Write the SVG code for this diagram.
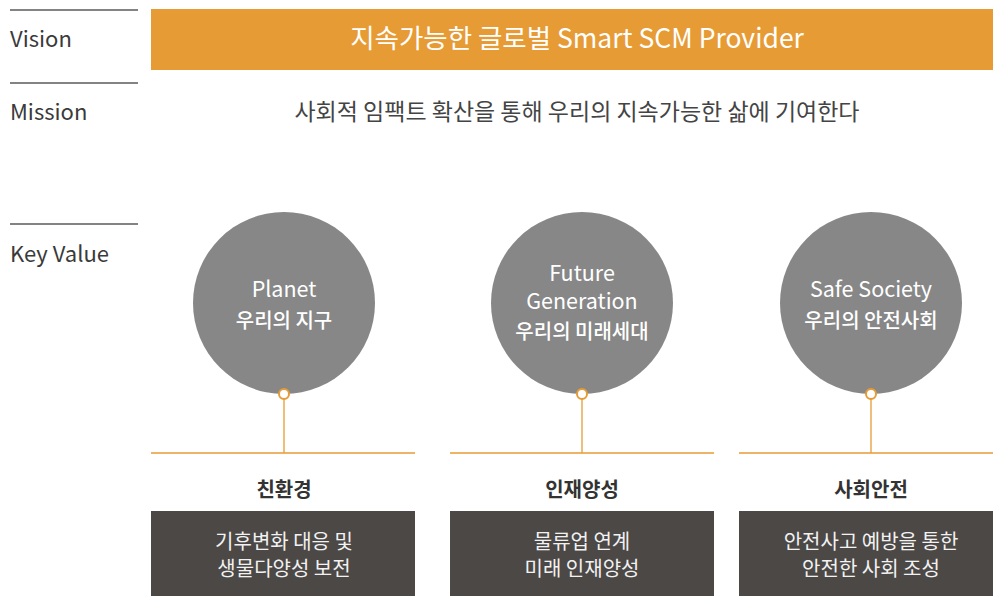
<svg xmlns="http://www.w3.org/2000/svg" width="993" height="596" viewBox="0 0 993 596">
<style>
text{font-family:"Noto Sans CJK KR","Noto Sans",sans-serif}
.lbl{font-size:22px;fill:#3a3a3a}
.rule{stroke:#5a5a5a;stroke-width:1.5}
.circ{fill:#878787}
.ct{font-size:21.5px;fill:#fff;text-anchor:middle}
.ck{font-size:20px;fill:#fff;text-anchor:middle;font-weight:500}
.conn{stroke:#E79B35;stroke-width:1.3;fill:none}
.dot{fill:#fff;stroke:#E79B35;stroke-width:2}
.head{font-size:20px;fill:#333;text-anchor:middle;font-weight:bold}
.box{fill:#4B4846}
.bt{font-size:20px;fill:#f2f2f2;text-anchor:middle}
</style>
<rect width="993" height="596" fill="#fff"/>
<g id="labels">
<line class="rule" x1="10" y1="10" x2="138" y2="10"/>
<line class="rule" x1="10" y1="83" x2="138" y2="83"/>
<line class="rule" x1="10" y1="224" x2="138" y2="224"/>
<text class="lbl" x="10" y="47">Vision</text>
<text class="lbl" x="10" y="120">Mission</text>
<text class="lbl" x="10" y="262">Key Value</text>
</g>
<g id="vision">
<rect x="151" y="9" width="842" height="61" fill="#E79B35"/>
<text x="577" y="48" font-size="26.5" fill="#fff" text-anchor="middle">지속가능한 글로벌 Smart SCM Provider</text>
</g>
<g id="mission">
<text x="577" y="120" font-size="23" fill="#444" text-anchor="middle">사회적 임팩트 확산을 통해 우리의 지속가능한 삶에 기여한다</text>
</g>
<g id="connectors">
<line class="conn" x1="284" y1="399" x2="284" y2="453"/>
<line class="conn" x1="582" y1="399" x2="582" y2="453"/>
<line class="conn" x1="871" y1="399" x2="871" y2="453"/>
<line class="conn" x1="151" y1="453" x2="415" y2="453"/>
<line class="conn" x1="450" y1="453" x2="714" y2="453"/>
<line class="conn" x1="739" y1="453" x2="993" y2="453"/>
</g>
<g id="planet">
<circle class="circ" cx="284" cy="303" r="91"/>
<text class="ct" x="284" y="297">Planet</text>
<text class="ck" x="284" y="328">우리의 지구</text>
<circle class="dot" cx="284" cy="394" r="5"/>
</g>
<g id="future">
<circle class="circ" cx="582" cy="303" r="91"/>
<text class="ct" x="582" y="281">Future</text>
<text class="ct" x="582" y="309">Generation</text>
<text class="ck" x="582" y="339">우리의 미래세대</text>
<circle class="dot" cx="582" cy="394" r="5"/>
</g>
<g id="safe">
<circle class="circ" cx="871" cy="303" r="91"/>
<text class="ct" x="871" y="297">Safe Society</text>
<text class="ck" x="871" y="328">우리의 안전사회</text>
<circle class="dot" cx="871" cy="394" r="5"/>
</g>
<g id="eco">
<text class="head" x="284" y="497">친환경</text>
<rect class="box" x="151" y="511" width="264" height="85"/>
<text class="bt" x="284" y="549">기후변화 대응 및</text>
<text class="bt" x="284" y="576">생물다양성 보전</text>
</g>
<g id="talent">
<text class="head" x="582" y="497">인재양성</text>
<rect class="box" x="450" y="511" width="264" height="85"/>
<text class="bt" x="582" y="549">물류업 연계</text>
<text class="bt" x="582" y="576">미래 인재양성</text>
</g>
<g id="safety">
<text class="head" x="871" y="497">사회안전</text>
<rect class="box" x="739" y="511" width="254" height="85"/>
<text class="bt" x="871" y="549">안전사고 예방을 통한</text>
<text class="bt" x="871" y="576">안전한 사회 조성</text>
</g>
</svg>
